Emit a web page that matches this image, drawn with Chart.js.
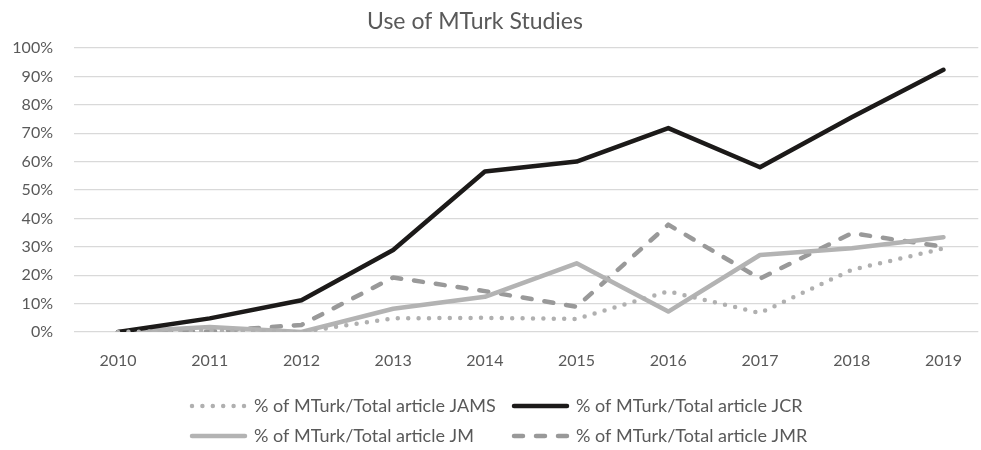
<!DOCTYPE html>
<html>
<head>
<meta charset="utf-8">
<script src="https://cdn.jsdelivr.net/npm/chart.js@4"></script>
<style>
  html, body { margin: 0; padding: 0; background: #ffffff; }
  #wrap { width: 981px; height: 450px; }
</style>
</head>
<body>
<div id="wrap"><canvas id="chart"></canvas></div>
<script>
// Data (percent)
const years = [2010, 2011, 2012, 2013, 2014, 2015, 2016, 2017, 2018, 2019];
const jamsValues = [0, 0.5, 0, 4.8, 5.0, 4.6, 14.3, 6.7, 21.9, 29.4];
const jcrValues = [0, 4.8, 11.2, 28.9, 56.5, 60.0, 71.8, 58.0, 75.6, 92.3];
const jmValues = [0, 1.8, 0, 8.2, 12.4, 24.2, 7.2, 27.1, 29.5, 33.4];
const jmrValues = [0, 0.2, 2.5, 19.2, 14.4, 8.9, 37.8, 18.8, 34.8, 30.0];
const yTicks = [0, 10, 20, 30, 40, 50, 60, 70, 80, 90, 100];

const chartTitle = 'Use of MTurk Studies';
const textColor = '#595959';
const fontFamily = 'Lato, "Open Sans", sans-serif';

const toPoints = (values) => values.map((v, i) => ({ x: years[i], y: v }));

// Title and 2x2 legend drawn like the spreadsheet version
const excelDecor = {
    id: 'excelDecor',
    afterDraw(chart) {
        const { ctx } = chart;
        ctx.save();
        ctx.fillStyle = textColor;
        ctx.font = '23px ' + fontFamily;
        ctx.textAlign = 'center';
        ctx.textBaseline = 'middle';
        ctx.fillText(chartTitle, 475, 22);

        const colX = [190, 512];
        const rowY = [406, 436];
        const lineLen = 57;
        chart.data.datasets.forEach((ds, i) => {
            const x = colX[i % 2];
            const y = rowY[Math.floor(i / 2)];
            ctx.beginPath();
            ctx.strokeStyle = ds.borderColor;
            ctx.lineWidth = ds.borderWidth;
            ctx.lineCap = ds.borderCapStyle;
            ctx.setLineDash(ds.borderDash);
            ctx.moveTo(x + 2, y);
            ctx.lineTo(x + lineLen - 2, y);
            ctx.stroke();
            ctx.setLineDash([]);
            ctx.fillStyle = textColor;
            ctx.font = '18px ' + fontFamily;
            ctx.textAlign = 'left';
            ctx.textBaseline = 'middle';
            ctx.fillText(ds.label, x + lineLen + 7, y);
        });
        ctx.restore();
    }
};

new Chart(document.getElementById('chart'), {
    type: 'line',
    data: {
        datasets: [
            {
                label: '% of MTurk/Total article JAMS',
                data: toPoints(jamsValues),
                borderColor: '#b0b0b0',
                borderWidth: 4.5,
                borderDash: [0, 10.4],
                borderCapStyle: 'round',
                borderJoinStyle: 'round',
                pointRadius: 0,
                tension: 0
            },
            {
                label: '% of MTurk/Total article JCR',
                data: toPoints(jcrValues),
                borderColor: '#1c1a19',
                borderWidth: 4.5,
                borderDash: [],
                borderCapStyle: 'round',
                borderJoinStyle: 'round',
                pointRadius: 0,
                tension: 0
            },
            {
                label: '% of MTurk/Total article JM',
                data: toPoints(jmValues),
                borderColor: '#b3b3b3',
                borderWidth: 4.5,
                borderDash: [],
                borderCapStyle: 'round',
                borderJoinStyle: 'round',
                pointRadius: 0,
                tension: 0
            },
            {
                label: '% of MTurk/Total article JMR',
                data: toPoints(jmrValues),
                borderColor: '#999999',
                borderWidth: 4.5,
                borderDash: [9, 13],
                borderCapStyle: 'round',
                borderJoinStyle: 'round',
                pointRadius: 0,
                tension: 0
            }
        ]
    },
    options: {
        responsive: true,
        maintainAspectRatio: false,
        animation: false,
        layout: { padding: { left: 12, right: 0, top: 48, bottom: 83 } },
        scales: {
            x: {
                type: 'linear',
                min: 2009.52,
                max: 2019.38,
                grid: { display: false, drawTicks: false },
                border: { display: false },
                afterBuildTicks: (scale) => { scale.ticks = years.map(v => ({ value: v })); },
                ticks: {
                    color: textColor,
                    font: { family: fontFamily, size: 16 },
                    padding: 19,
                    maxRotation: 0,
                    autoSkip: false,
                    callback: (v) => String(v)
                },
                afterFit: (scale) => { scale.height = 35; }
            },
            y: {
                min: 0,
                max: 100,
                afterBuildTicks: (scale) => { scale.ticks = yTicks.map(v => ({ value: v })); },
                grid: { color: '#d9d9d9', lineWidth: 1.3, drawTicks: false },
                border: { display: false },
                ticks: {
                    color: textColor,
                    font: { family: fontFamily, size: 16 },
                    padding: 21,
                    callback: (v) => v + '%'
                },
                afterFit: (scale) => { scale.width = 62; }
            }
        },
        plugins: {
            legend: { display: false },
            title: { display: false },
            tooltip: { enabled: false }
        }
    },
    plugins: [excelDecor]
});
</script>
</body>
</html>
